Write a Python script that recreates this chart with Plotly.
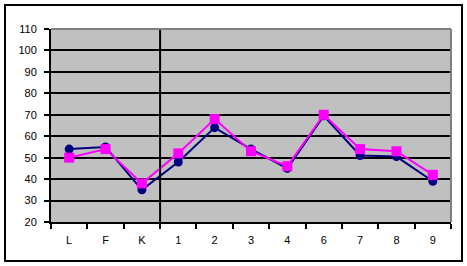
import plotly.graph_objects as go

categories = ["L", "F", "K", "1", "2", "3", "4", "6", "7", "8", "9"]
series_navy = [54, 55, 35, 48, 64, 54, 45, 69.5, 51, 50.5, 39]
series_pink = [50, 54, 38, 52, 68, 53, 46, 70, 54, 53, 42]
y_ticks = [20, 30, 40, 50, 60, 70, 80, 90, 100, 110]

fig = go.Figure()
fig.add_trace(go.Scatter(
    x=categories, y=series_navy, mode="lines+markers",
    line=dict(color="#000080", width=2),
    marker=dict(symbol="circle", size=9, color="#000080"),
    showlegend=False, cliponaxis=False))
fig.add_trace(go.Scatter(
    x=categories, y=series_pink, mode="lines+markers",
    line=dict(color="#FF00FF", width=2),
    marker=dict(symbol="square", size=10, color="#FF00FF"),
    showlegend=False, cliponaxis=False))

font = dict(family="Liberation Sans, Arial, sans-serif", size=11, color="black")

fig.update_layout(
    width=467, height=266,
    margin=dict(l=51, r=16, t=29, b=44),
    paper_bgcolor="white", plot_bgcolor="#C0C0C0",
    font=font,
    xaxis=dict(
        type="category", range=[-0.5, 10.5],
        showgrid=False, showline=True, linecolor="black", linewidth=2,
        ticks="outside", tickson="boundaries", ticklen=5, tickwidth=1.5, tickcolor="black",
        ticklabelstandoff=7, zeroline=False, fixedrange=True),
    yaxis=dict(
        range=[20, 110], tickvals=y_ticks,
        showgrid=True, gridcolor="black", gridwidth=2,
        showline=True, linecolor="black", linewidth=2,
        ticks="outside", ticklen=5, tickwidth=1.5, tickcolor="black",
        ticklabelstandoff=5, zeroline=False, fixedrange=True),
    shapes=[
        dict(type="line", xref="x", yref="paper", x0=2.5, x1=2.5, y0=0, y1=1,
             line=dict(color="black", width=2)),
        dict(type="line", xref="paper", yref="paper", x0=0, x1=1, y0=1, y1=1,
             line=dict(color="#808080", width=2)),
        dict(type="line", xref="paper", yref="paper", x0=1, x1=1, y0=0, y1=1,
             line=dict(color="#808080", width=2)),
        dict(type="rect", xref="paper", yref="paper",
             x0=-0.115, x1=1.0275, y0=-0.202, y1=1.124,
             line=dict(color="black", width=2), fillcolor="rgba(0,0,0,0)"),
    ],
)

fig.write_html("out.html")
